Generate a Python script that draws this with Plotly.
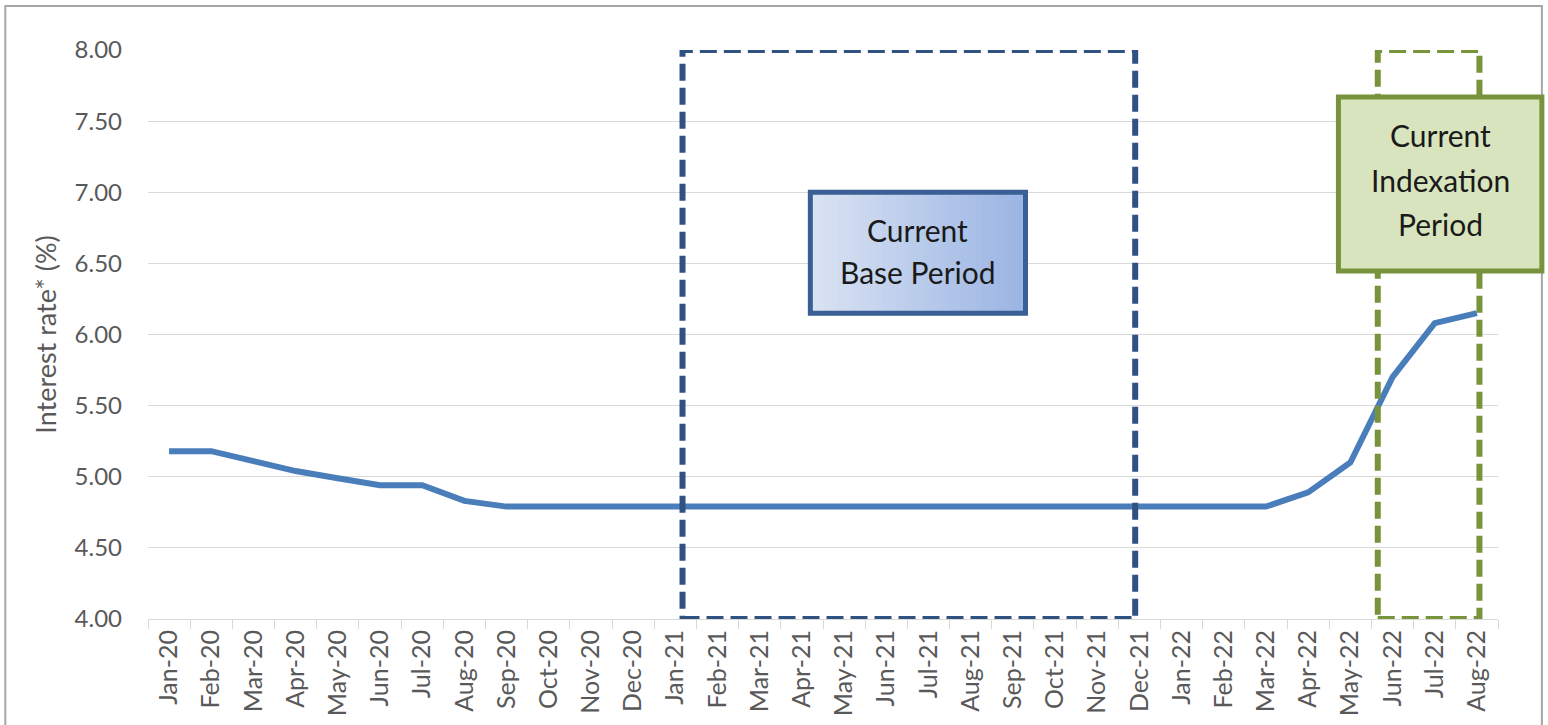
import plotly.graph_objects as go

months = ["Jan-20", "Feb-20", "Mar-20", "Apr-20", "May-20", "Jun-20", "Jul-20", "Aug-20",
          "Sep-20", "Oct-20", "Nov-20", "Dec-20", "Jan-21", "Feb-21", "Mar-21", "Apr-21",
          "May-21", "Jun-21", "Jul-21", "Aug-21", "Sep-21", "Oct-21", "Nov-21", "Dec-21",
          "Jan-22", "Feb-22", "Mar-22", "Apr-22", "May-22", "Jun-22", "Jul-22", "Aug-22"]
rates = [5.18, 5.18, 5.11, 5.04, 4.99, 4.94, 4.94, 4.83,
         4.79, 4.79, 4.79, 4.79, 4.79, 4.79, 4.79, 4.79,
         4.79, 4.79, 4.79, 4.79, 4.79, 4.79, 4.79, 4.79,
         4.79, 4.79, 4.79, 4.89, 5.10, 5.70, 6.08, 6.15]
y_ticks = [4.0, 4.5, 5.0, 5.5, 6.0, 6.5, 7.0, 7.5, 8.0]

# period boxes (category index positions) and labels
base_period = (12.17, 22.9)
index_period = (28.65, 31.06)
base_label = ["Current", "Base Period"]
index_label = ["Current", "Indexation", "Period"]

FONT = "Lato"
GREY = "#595959"

fig = go.Figure()
fig.add_trace(go.Scatter(x=months, y=rates, mode="lines",
                         line=dict(color="#4a7ebb", width=6), hoverinfo="x+y",
                         showlegend=False))

shapes = []
# outer frame
shapes.append(dict(type="rect", xref="paper", yref="paper", x0=-0.1057, x1=1.0325,
                   y0=-0.25, y1=1.0773, line=dict(color="#a6a6a6", width=2),
                   fillcolor="rgba(0,0,0,0)", layer="below"))
# dashed period boxes
shapes.append(dict(type="rect", xref="x", yref="y", x0=base_period[0], x1=base_period[1],
                   y0=4.0, y1=8.0, line=dict(color="#2f5283", width=6, dash="17px,7px"),
                   fillcolor="rgba(0,0,0,0)", layer="above"))
shapes.append(dict(type="rect", xref="x", yref="y", x0=index_period[0], x1=index_period[1],
                   y0=4.0, y1=8.0, line=dict(color="#77933c", width=6, dash="17px,7px"),
                   fillcolor="rgba(0,0,0,0)", layer="above"))

# base label box with a horizontal gradient
bx0, bx1, by0, by1 = 15.2, 20.3, 6.15, 7.0
n = 30
c0 = (218, 227, 243)
c1 = (155, 181, 228)
w = (bx1 - bx0) / n
for i in range(n):
    t = i / (n - 1)
    col = tuple(int(c0[k] + (c1[k] - c0[k]) * t) for k in range(3))
    shapes.append(dict(type="rect", xref="x", yref="y",
                       x0=bx0 + w * i, x1=min(bx1, bx0 + w * (i + 1.6)),
                       y0=by0, y1=by1, line=dict(width=0),
                       fillcolor="rgb(%d,%d,%d)" % col, layer="above"))
shapes.append(dict(type="rect", xref="x", yref="y", x0=bx0, x1=bx1, y0=by0, y1=by1,
                   line=dict(color="#3a5f95", width=5), fillcolor="rgba(0,0,0,0)",
                   layer="above"))
# index label box (extends beyond plot, use paper coords)
shapes.append(dict(type="rect", xref="paper", yref="paper", x0=0.8818, x1=1.0325,
                   y0=0.6116, y1=0.9174, line=dict(color="#77933c", width=5),
                   fillcolor="#d7e4bd", layer="above"))

annotations = []
for i, (t, yy) in enumerate(zip(base_label, [6.735, 6.44])):
    annotations.append(dict(xref="x", yref="y", x=(bx0 + bx1) / 2, y=yy,
                            xanchor="center", yanchor="middle", text=t, showarrow=False,
                            font=dict(family=FONT, size=30, color="#1a1a1a")))
for i, (t, yy) in enumerate(zip(index_label, [0.8506, 0.7715, 0.694])):
    annotations.append(dict(xref="paper", yref="paper", x=(0.8818 + 1.0325) / 2, y=yy,
                            xanchor="center", yanchor="middle", text=t, showarrow=False,
                            font=dict(family=FONT, size=30, color="#1a1a1a")))

fig.update_layout(
    width=1548, height=725,
    margin=dict(l=148, r=50, t=50, b=106),
    paper_bgcolor="white", plot_bgcolor="white",
    font=dict(family=FONT, color=GREY),
    shapes=shapes, annotations=annotations,
    xaxis=dict(type="category", categoryorder="array", categoryarray=months,
               range=[-0.5, 31.5], tickangle=-90, tickfont=dict(size=25, color=GREY),
               ticks="outside", ticklen=9, tickcolor="#d9d9d9", tickson="boundaries",
               showline=True, linecolor="#d9d9d9", linewidth=1, showgrid=False,
               zeroline=False, automargin=False),
    yaxis=dict(range=[4, 8], tickvals=y_ticks, tickformat=".2f",
               tickfont=dict(size=24, color=GREY), showgrid=True, gridcolor="#d9d9d9",
               gridwidth=1, zeroline=False, showline=False, ticks="",
               ticklabelstandoff=25, automargin=False,
               title=dict(text="Interest rate* (%)", font=dict(size=27, color=GREY),
                          standoff=10)),
)

fig.write_html("out.html")
